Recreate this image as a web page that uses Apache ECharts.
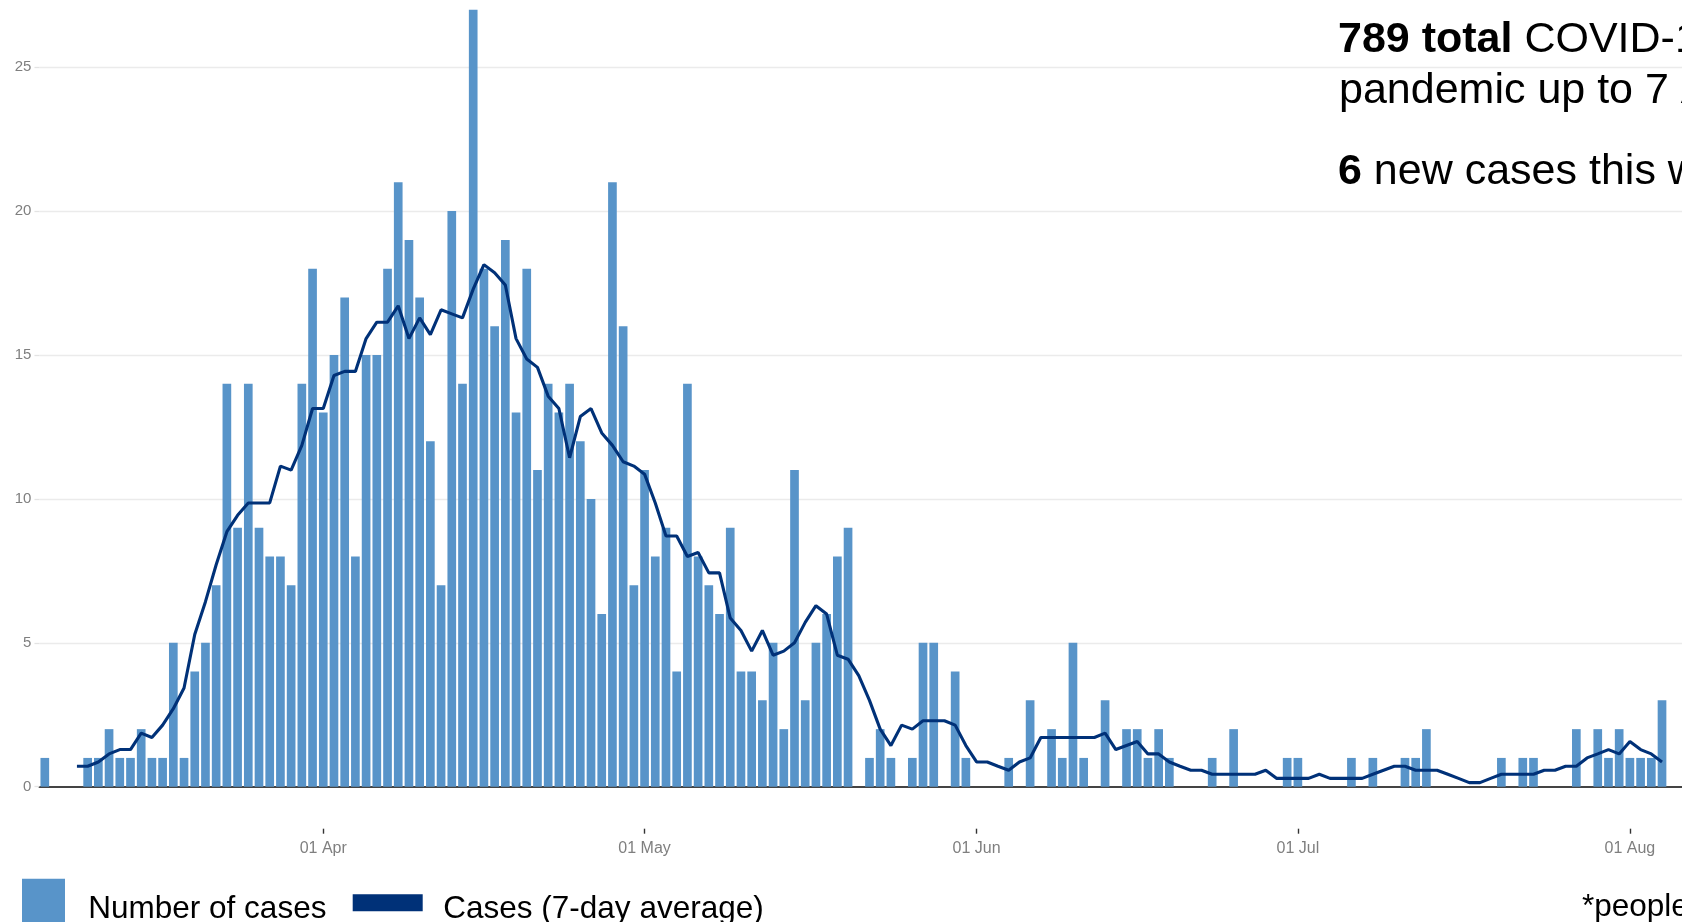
<!DOCTYPE html>
<html>
<head>
<meta charset="utf-8">
<script src="https://cdn.jsdelivr.net/npm/echarts@6/dist/echarts.min.js"></script>
<style>
html, body { margin: 0; padding: 0; background: #ffffff; overflow: hidden; width: 1682px; height: 922px; }
#chart { width: 1700px; height: 922px; }
</style>
</head>
<body>
<div id="chart"></div>
<script>
// ---------------- data ----------------
const startDate = '2020-03-06';

// daily number of cases, 6 Mar .. 7 Aug
const dailyCases = [
  // Mar 6-31
  1,0,0,0,1,1,2,1,1,2,1,1,5,1,4,5,7,14,9,14,9,8,8,7,14,18,
  // Apr
  13,15,17,8,15,15,18,21,19,17, 12,7,20,14,27,18,16,19,13,18, 11,14,13,14,12,10,6,21,16,7,
  // May
  11,8,9,4,14,8,7,6,9,4, 4,3,5,2,11,3,5,6,8,9, 0,1,2,1,0,1,5,5,0,4,1,
  // Jun
  0,0,0,1,0,3,0,2,1,5, 1,0,3,0,2,2,1,2,1,0, 0,0,1,0,2,0,0,0,0,1,
  // Jul
  1,0,0,0,0,1,0,1,0,0, 1,1,2,0,0,0,0,0,0,1, 0,1,1,0,0,0,2,0,2,1,2,
  // Aug 1-7
  1,1,1,3,0,0,0
];

// 7-day average line, 6 Mar .. 7 Aug
const sevenDayAverage = [
  // Mar 6-8
  null,null,null,
  // Mar 9-31
  0.71,0.71,0.86,1.14,1.29,1.29,1.86,1.71,2.14,2.71,3.43,5.29,6.43,7.71,8.86,9.43,9.86,9.86,9.86,11.14,11.00,11.86,13.14,
  // Apr
  13.14,14.29,14.43,14.43,15.57,16.14,16.14,16.71,15.57,16.29,
  15.71,16.57,16.43,16.29,17.29,18.14,17.86,17.43,15.57,14.86,
  14.57,13.57,13.14,11.43,12.86,13.14,12.29,11.86,11.29,11.14,
  // May
  10.86,9.86,8.71,8.71,8.00,8.14,7.43,7.43,5.86,5.43,
  4.71,5.43,4.57,4.71,5.00,5.71,6.29,6.00,4.57,4.43,
  3.86,3.00,2.00,1.43,2.14,2.00,2.29,2.29,2.29,2.14,1.43,
  // Jun
  0.86,0.86,0.71,0.57,0.86,1.00,1.71,1.71,1.71,1.71,
  1.71,1.71,1.86,1.29,1.43,1.57,1.14,1.14,0.86,0.71,
  0.57,0.57,0.43,0.43,0.43,0.43,0.43,0.57,0.29,0.29,
  // Jul
  0.29,0.29,0.43,0.29,0.29,0.29,0.29,0.43,0.57,0.71,
  0.71,0.57,0.57,0.57,0.43,0.29,0.14,0.14,0.29,0.43,
  0.43,0.43,0.43,0.57,0.57,0.71,0.71,1.00,1.14,1.29,1.14,
  // Aug 1-7
  1.57,1.29,1.14,0.86,null,null,null
];

const tickDates  = ['2020-04-01','2020-05-01','2020-06-01','2020-07-01','2020-08-01'];
const tickLabels = ['01 Apr','01 May','01 Jun','01 Jul','01 Aug'];
const yMax = 25;
const yStep = 5;
const seriesNames = ['Number of cases', 'Cases (7-day average)'];
const headlineLines = [
  '{b|789 total}{r| COVID-19 cases* since the start of the}',
  '{r|pandemic up to 7 August}',
  '{b|6}{r| new cases this week}'
];
const footnote = '*people';

// ---------------- chart ----------------
const FONT = 'Liberation Sans, Arial, sans-serif';
const BAR_COLOR = '#5894c9';
const LINE_COLOR = '#003178';
const HEAD_SIZE = 43;
const LEGEND_SIZE = 31.5;
// legend key for the line: a 70x17 bar drawn in the upper part of a 70x40 key box
const LINE_KEY_ICON = 'path://M0,0L0.01,0M0,4.9L70,4.9L70,21.9L0,21.9ZM0,40L0.01,40';

const dates = [];
const t0 = new Date(startDate + 'T00:00:00Z').getTime();
for (let i = 0; i < dailyCases.length; i++) {
  dates.push(new Date(t0 + i * 86400000).toISOString().slice(0, 10));
}
const isTick = (idx, v) => tickDates.indexOf(v) >= 0;

const richText = {
  b: { fontWeight: 'bold', fontSize: HEAD_SIZE, fontFamily: FONT, fill: '#000' },
  r: { fontWeight: 'normal', fontSize: HEAD_SIZE, fontFamily: FONT, fill: '#000' }
};
const headStyle = (txt) => ({ text: txt, rich: richText, fontSize: HEAD_SIZE, fontFamily: FONT,
                              fill: '#000', verticalAlign: 'middle', align: 'left' });

const chart = echarts.init(document.getElementById('chart'), null, { renderer: 'canvas' });
chart.setOption({
  animation: false,
  backgroundColor: '#ffffff',
  grid: { left: 39.45, right: 0.5, top: 67.2, bottom: 135.3, containLabel: false },
  xAxis: [
    {
      type: 'category',
      data: dates,
      position: 'bottom',
      offset: 42,
      boundaryGap: true,
      axisLine: { show: false, onZero: false },
      axisTick: { show: true, alignWithLabel: true, interval: isTick, length: 5,
                  lineStyle: { color: '#333333', width: 1.4 } },
      axisLabel: { interval: isTick, formatter: v => tickLabels[tickDates.indexOf(v)] || '',
                   color: '#7f7f7f', fontSize: 16, fontFamily: FONT, margin: 12 },
      splitLine: { show: false }
    },
    {
      type: 'category',
      data: dates,
      position: 'bottom',
      offset: 0,
      axisLine: { show: true, onZero: false, lineStyle: { color: '#444444', width: 2 } },
      axisTick: { show: false },
      axisLabel: { show: false },
      splitLine: { show: false }
    }
  ],
  yAxis: {
    type: 'value',
    min: 0,
    max: yMax,
    interval: yStep,
    axisLine: { show: false },
    axisTick: { show: true, length: 5, lineStyle: { color: '#e3e3e3', width: 1.3 } },
    axisLabel: { color: '#7f7f7f', fontSize: 15, fontFamily: FONT, margin: 8 },
    splitLine: { show: true, showMinLine: false, lineStyle: { color: '#ebebeb', width: 1.3 } }
  },
  legend: [
    {
      data: [seriesNames[0]],
      left: 22, top: 878.7, padding: 0,
      itemWidth: 43, itemHeight: 61.4, icon: 'rect',
      itemStyle: { borderWidth: 0 },
      textStyle: { fontSize: LEGEND_SIZE, color: '#000', fontFamily: FONT, padding: [0, 0, 0, 18.3] }
    },
    {
      data: [seriesNames[1]],
      left: 352.7, top: 889.4, padding: 0,
      itemWidth: 70, itemHeight: 40, icon: LINE_KEY_ICON,
      itemStyle: { borderWidth: 0 },
      textStyle: { fontSize: LEGEND_SIZE, color: '#000', fontFamily: FONT, padding: [0, 0, 0, 15.6] }
    }
  ],
  series: [
    {
      name: seriesNames[0],
      type: 'bar',
      xAxisIndex: 0,
      data: dailyCases,
      barWidth: '81%',
      clip: false,
      itemStyle: { color: BAR_COLOR },
      z: 2
    },
    {
      name: seriesNames[1],
      type: 'line',
      xAxisIndex: 0,
      data: sevenDayAverage,
      symbol: 'none',
      connectNulls: false,
      clip: false,
      lineStyle: { color: LINE_COLOR, width: 3.1 },
      itemStyle: { color: LINE_COLOR },
      z: 3
    }
  ],
  graphic: [
    { type: 'text', x: 1338, y: 39.8, style: headStyle(headlineLines[0]) },
    { type: 'text', x: 1339, y: 90.9, style: headStyle(headlineLines[1]) },
    { type: 'text', x: 1338, y: 172.5, style: headStyle(headlineLines[2]) },
    { type: 'text', x: 1582, y: 907,
      style: { text: footnote, fontSize: LEGEND_SIZE, fontFamily: FONT, fill: '#000', verticalAlign: 'middle', align: 'left' } }
  ]
});
</script>
</body>
</html>
